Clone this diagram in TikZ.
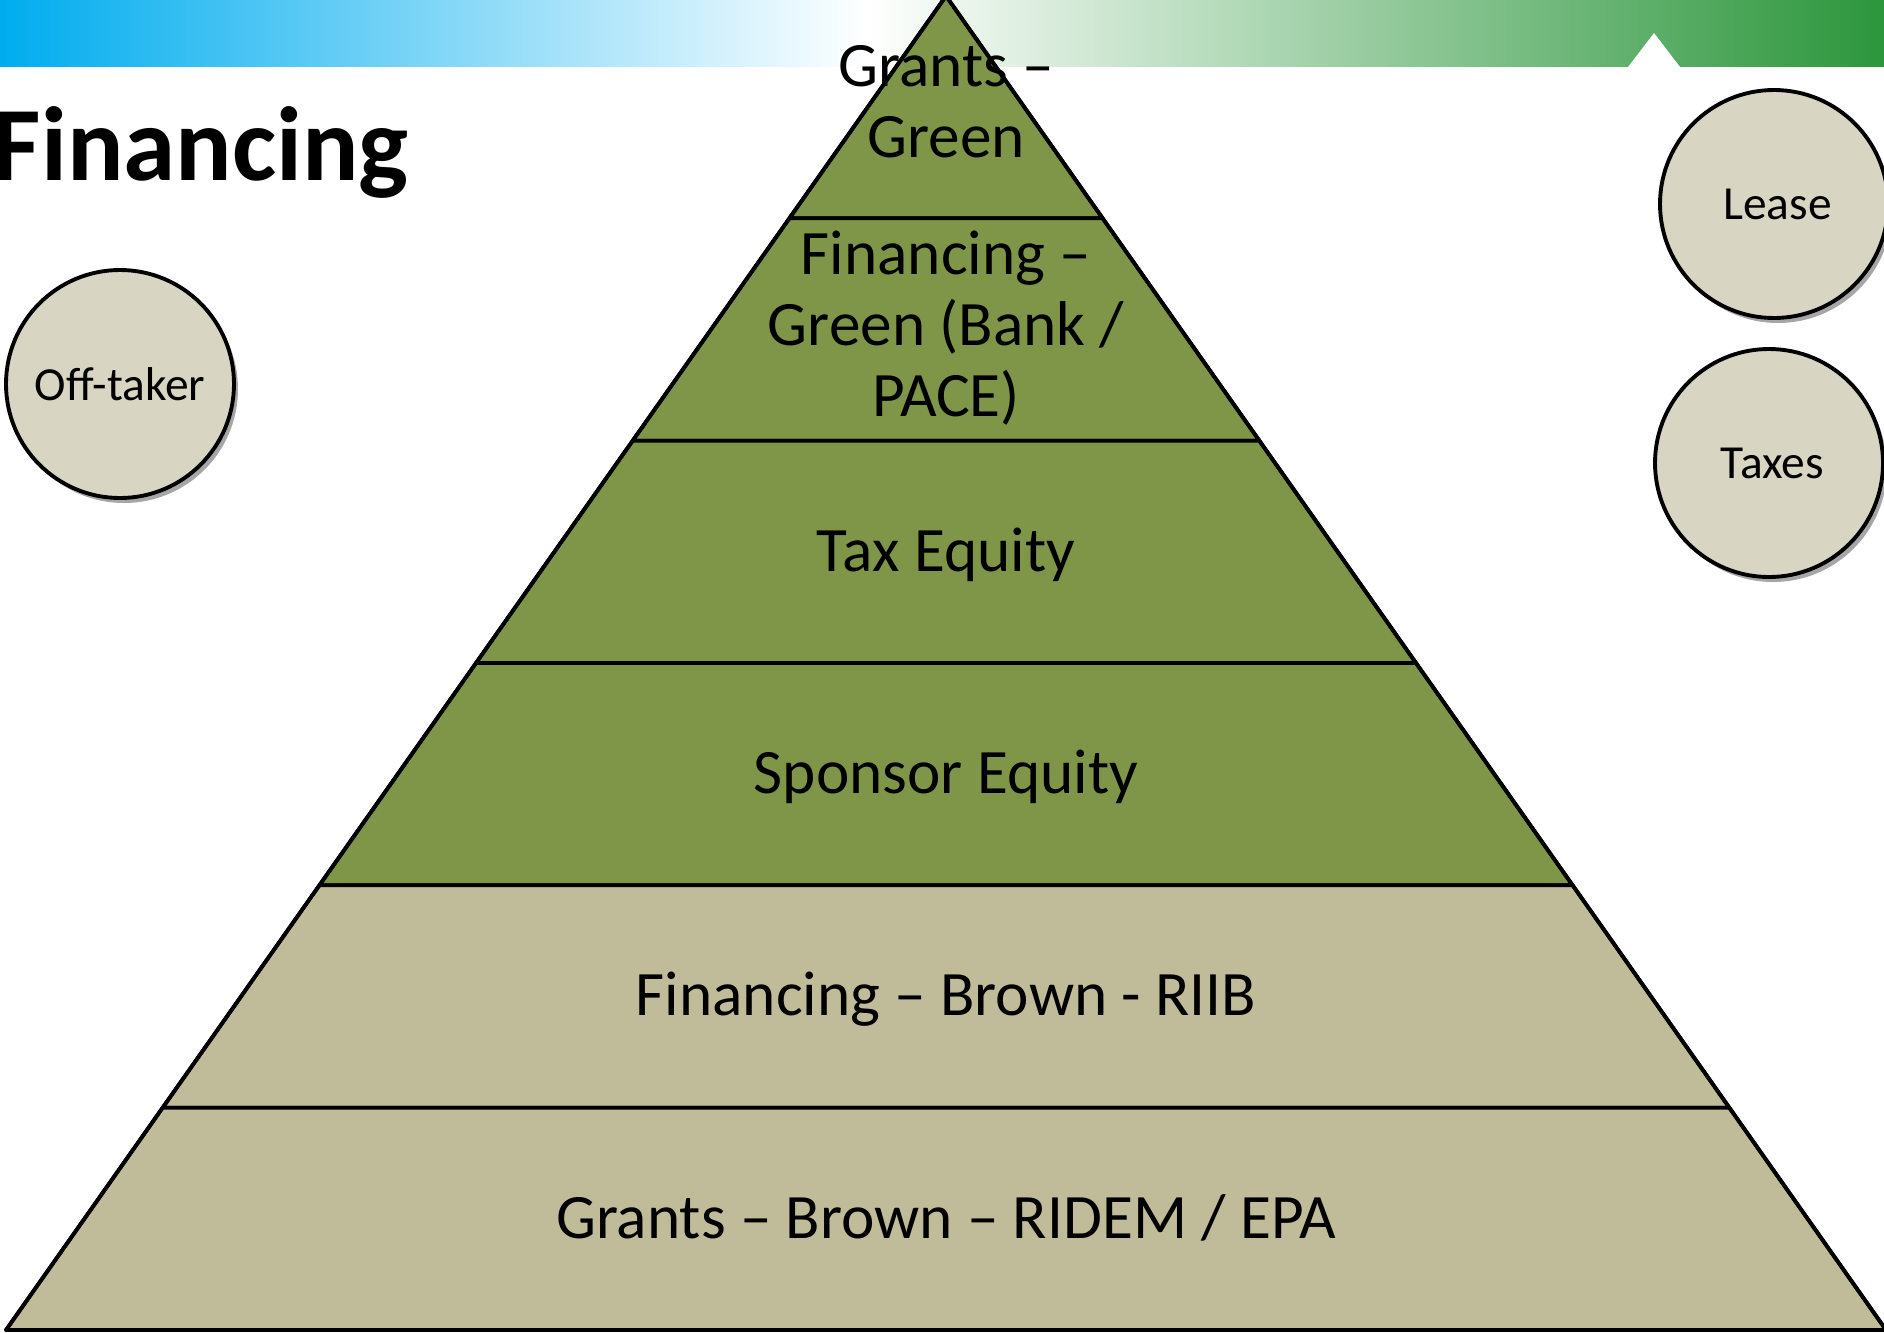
\documentclass[tikz,border=0pt]{standalone}
\usepackage{fontspec}
\setmainfont{Carlito}
\usetikzlibrary{shadows,calc}
\definecolor{bblue}{RGB}{0,172,238}
\definecolor{bgreen}{RGB}{44,150,60}
\definecolor{greenband}{RGB}{127,150,72}
\definecolor{tanband}{RGB}{192,187,152}
\definecolor{circfill}{RGB}{217,213,195}
\pgfdeclarehorizontalshading{banner}{100bp}{color(0bp)=(bblue); color(25bp)=(bblue); color(48bp)=(white); color(75bp)=(bgreen); color(100bp)=(bgreen)}
\begin{document}
\begin{tikzpicture}[x=0.1mm,y=-0.1mm,
  band/.style={draw=black,line width=1.05pt,line join=round},
  gband/.style={band,fill=greenband},
  tband/.style={band,fill=tanband},
  btext/.style={font=\fontsize{18}{20.2}\selectfont,align=center,anchor=base,inner sep=0pt},
  bubble/.style={circle,draw=black,line width=1.1pt,fill=circfill,minimum size=22.8mm,inner sep=0pt,
     font=\fontsize{13.5}{16}\selectfont,
     drop shadow={shadow xshift=0.4mm,shadow yshift=-0.5mm,opacity=0.35,fill=black}}]
\useasboundingbox (0,0) rectangle (1884,1332);
% banner
\shade[shading=banner] (0,0) rectangle (1884,66);
\fill[white] (1628,67) -- (1654,33) -- (1680,67) -- cycle;
% pyramid
\coordinate (A) at (946,-4);
\coordinate (BL) at (6,1330);
\coordinate (BR) at (1886,1330);
\foreach \k in {1,...,5}{
  \coordinate (L\k) at ($(A)!\k/6!(BL)$);
  \coordinate (R\k) at ($(A)!\k/6!(BR)$);
}
\draw[gband] (A) -- (L1) -- (R1) -- cycle;
\draw[gband] (L1) -- (L2) -- (R2) -- (R1) -- cycle;
\draw[gband] (L2) -- (L3) -- (R3) -- (R2) -- cycle;
\draw[gband] (L3) -- (L4) -- (R4) -- (R3) -- cycle;
\draw[tband] (L4) -- (L5) -- (R5) -- (R4) -- cycle;
\draw[tband] (L5) -- (BL) -- (BR) -- (R5) -- cycle;
\draw[line width=1.1pt,line join=round] (A) -- (BL) -- (BR) -- cycle;
% band texts
\node[btext] (t1) at (946,157) {Grants –\\Green};
\node[btext] (t2) at (946,416) {Financing –\\Green (Bank /\\PACE)};
\node[btext] (t3) at (946,571) {Tax Equity};
\node[btext] (t4) at (946,793) {Sponsor Equity};
\node[btext] (t5) at (946,1015) {Financing – Brown - RIIB};
\node[btext] (t6) at (946,1238) {Grants – Brown – RIDEM / EPA};
% title
\node[anchor=base west,inner sep=0pt,font=\bfseries\fontsize{30}{36}\selectfont] (title) at (-8,180) {Financing};
% bubbles
\node[bubble] (off) at (120,384) {Off-taker};
\node[bubble] (lease) at (1774,204) {\hspace*{0.7mm}Lease};
\node[bubble] (taxes) at (1769,463) {\hspace*{0.7mm}Taxes};
\end{tikzpicture}
\end{document}
